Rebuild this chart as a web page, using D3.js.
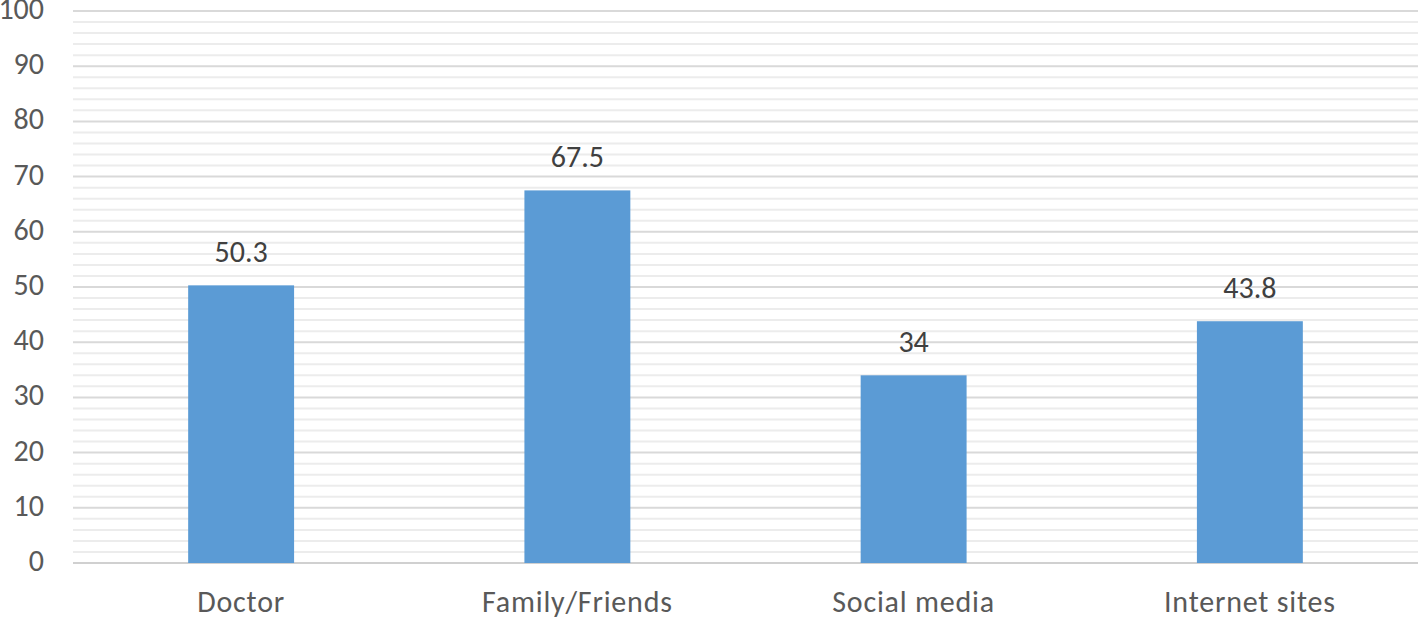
<!DOCTYPE html>
<html>
<head>
<meta charset="utf-8">
<script src="https://cdn.jsdelivr.net/npm/d3@7"></script>
<style>
  body { margin: 0; background: #fff; }
  text { font-family: Calibri, Carlito, "Liberation Sans", "Open Sans", sans-serif; }
</style>
</head>
<body>
<script>
var categories = ['Doctor', 'Family/Friends', 'Social media', 'Internet sites']
var values = [50.3, 67.5, 34, 43.8]
var valueLabels = ['50.3', '67.5', '34', '43.8']
var yTicks = [0, 10, 20, 30, 40, 50, 60, 70, 80, 90, 100]
var minorTicks = d3.range(0, 101, 2)

var width = 1418
var height = 619
var plotLeft = 73, plotRight = 1418, plotTop = 11, plotBottom = 563

var svg = d3.select('body')
            .append('svg')
            .attr('width', width)
            .attr('height', height)

var x = d3.scaleBand()
          .domain(categories)
          .range([plotLeft, plotRight])
          .paddingInner(0.685)
          .paddingOuter(0.3425)

var y = d3.scaleLinear()
          .domain([0, 100])
          .range([plotBottom, plotTop])

// minor gridlines
svg.append('g')
   .selectAll('line')
   .data(minorTicks.filter(function(d){ return d % 10 !== 0 }))
   .enter().append('line')
   .attr('x1', plotLeft).attr('x2', plotRight)
   .attr('y1', function(d){ return y(d) })
   .attr('y2', function(d){ return y(d) })
   .attr('stroke', '#ececec')
   .attr('stroke-width', 2)

// major gridlines
svg.append('g')
   .selectAll('line')
   .data(yTicks)
   .enter().append('line')
   .attr('x1', plotLeft).attr('x2', plotRight)
   .attr('y1', function(d){ return y(d) })
   .attr('y2', function(d){ return y(d) })
   .attr('stroke', function(d){ return d === 0 ? '#d0d0d0' : '#d9d9d9' })
   .attr('stroke-width', 2)

// y tick labels
svg.append('g')
   .selectAll('text')
   .data(yTicks)
   .enter().append('text')
   .attr('x', 44)
   .attr('y', function(d){ return y(d) + 8 })
   .attr('text-anchor', 'end')
   .attr('fill', '#595959')
   .attr('font-size', '30px')
   .text(function(d){ return d })

// bars
svg.append('g')
   .selectAll('rect')
   .data(values)
   .enter().append('rect')
   .attr('x', function(d, i){ return x(categories[i]) })
   .attr('y', function(d){ return y(d) })
   .attr('width', x.bandwidth())
   .attr('height', function(d){ return y(0) - y(d) })
   .attr('fill', '#5b9bd5')

// value labels
svg.append('g')
   .selectAll('text')
   .data(values)
   .enter().append('text')
   .attr('x', function(d, i){ return x(categories[i]) + x.bandwidth() / 2 })
   .attr('y', function(d){ return y(d) - 23 })
   .attr('text-anchor', 'middle')
   .attr('fill', '#404040')
   .attr('font-size', '30px')
   .text(function(d, i){ return valueLabels[i] })

// category labels
svg.append('g')
   .selectAll('text')
   .data(categories)
   .enter().append('text')
   .attr('x', function(d){ return x(d) + x.bandwidth() / 2 })
   .attr('y', 612)
   .attr('text-anchor', 'middle')
   .attr('fill', '#595959')
   .attr('font-size', '30px')
   .attr('letter-spacing', '0.8px')
   .text(function(d){ return d })
</script>
</body>
</html>
